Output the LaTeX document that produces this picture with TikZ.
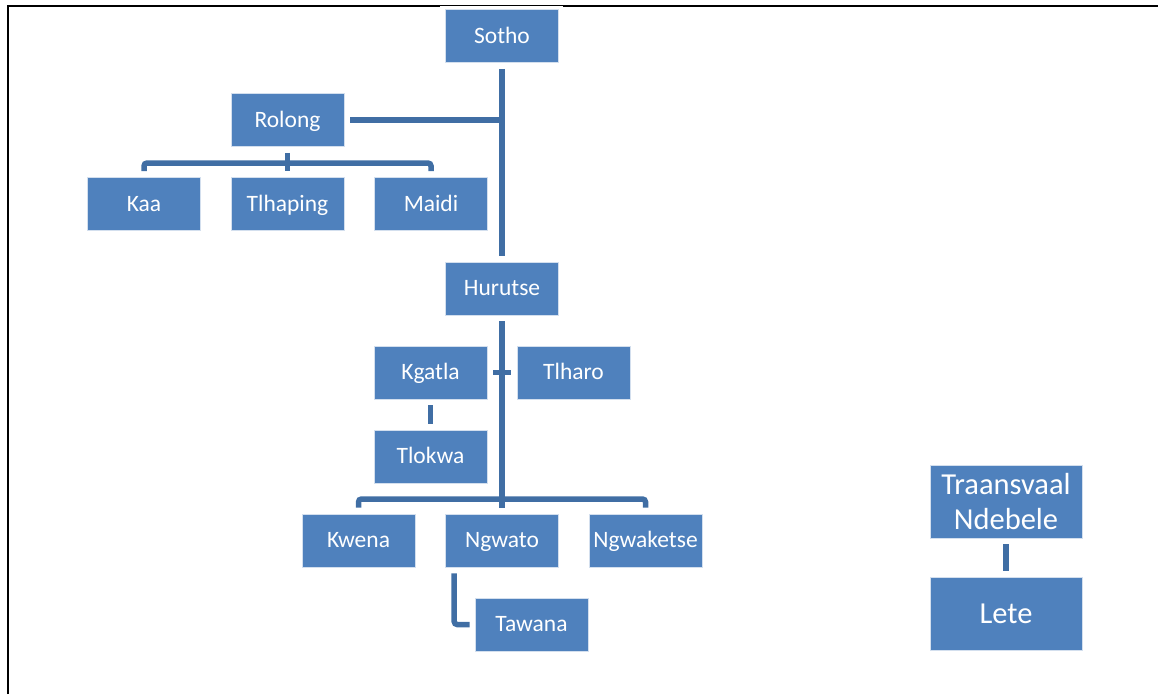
\documentclass[tikz,border=0pt]{standalone}
\usepackage{fontspec}
\setmainfont{Carlito}
\definecolor{boxblue}{RGB}{79,129,189}
\definecolor{connblue}{RGB}{64,110,164}
\tikzset{
  basebox/.style={fill=boxblue, draw=white!75!boxblue, line width=0.6pt, minimum width=113pt, minimum height=53pt, inner sep=0pt, text=white, align=center},
  box/.style={basebox, font=\fontsize{23.5}{28}\selectfont, text height=17pt, text depth=3pt},
  bigbox/.style={basebox, minimum width=152pt, minimum height=73pt, font=\fontsize{30.5}{35}\selectfont},
  conn/.style={draw=connblue, line width=5.5pt},
  frame/.style={draw=black, line width=2pt}
}
\begin{document}
\begin{tikzpicture}[x=1pt,y=-1pt]
\useasboundingbox (0,0) rectangle (1158,694);
% frame
\draw[frame] (7.5,694) -- (7.5,5.5) -- (440,5.5);
\draw[frame] (563,5.5) -- (1158,5.5);
\draw[black, line width=0.6pt] (440,4.8) -- (563,4.8);
% nodes
\node[box] (Sotho) at (502,36) {Sotho};
\node[box] (Rolong) at (287.5,120) {Rolong};
\node[box] (Kaa) at (144,204) {Kaa};
\node[box] (Tlhaping) at (287.5,204) {Tlhaping};
\node[box] (Maidi) at (431,204) {Maidi};
\node[box] (Hurutse) at (502,288.5) {Hurutse};
\node[box] (Kgatla) at (430.5,372.5) {Kgatla};
\node[box] (Tlharo) at (573.5,372.5) {Tlharo};
\node[box] (Tlokwa) at (430.5,456.5) {Tlokwa};
\node[box] (Kwena) at (358.5,540.5) {Kwena};
\node[box] (Ngwato) at (502,540.5) {Ngwato};
\node[box] (Ngwaketse) at (645.5,540.5) {Ngwaketse};
\node[box] (Tawana) at (531.5,624.5) {Tawana};
\node[bigbox] (Traansvaal) at (1006,501.5) {Traansvaal\\Ndebele};
\node[bigbox] (Lete) at (1006,613.5) {Lete};
% coordinates for bars
\coordinate (rbar) at (287.5,163);
\coordinate (hbar) at (502,499);
% connectors
\draw[conn] ([yshift=-6pt]Sotho.south) -- ([yshift=6pt]Hurutse.north);
\draw[conn] ([xshift=6pt]Rolong.east) -- (Rolong.east -| Sotho.south);
\draw[conn] ([yshift=-6pt]Rolong.south) -- ([yshift=6pt]Tlhaping.north);
\draw[conn, rounded corners=3pt] ([yshift=6pt]Kaa.north) -- (Kaa.north |- rbar) -- (Maidi.north |- rbar) -- ([yshift=6pt]Maidi.north);
\draw[conn] ([yshift=-6pt]Hurutse.south) -- ([yshift=6pt]Ngwato.north);
\draw[conn, rounded corners=3pt] ([yshift=6pt]Kwena.north) -- (Kwena.north |- hbar) -- (Ngwaketse.north |- hbar) -- ([yshift=6pt]Ngwaketse.north);
\draw[conn] ([xshift=6pt]Kgatla.east) -- ([xshift=-6pt]Tlharo.west);
\draw[conn] ([yshift=-6pt]Kgatla.south) -- ([yshift=6pt]Tlokwa.north);
\draw[conn, rounded corners=3pt] ([shift={(9pt,-6pt)}]Ngwato.south west) |- ([xshift=-5pt]Tawana.west);
\draw[conn] ([yshift=-6pt]Traansvaal.south) -- ([yshift=6pt]Lete.north);
\end{tikzpicture}
\end{document}
